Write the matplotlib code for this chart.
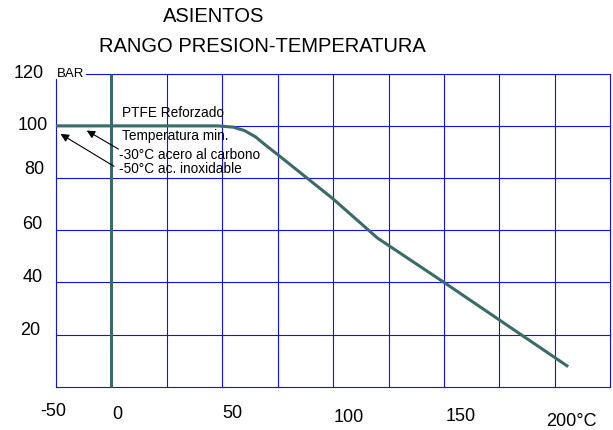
import matplotlib
matplotlib.use("Agg")
import matplotlib.pyplot as plt

plt.rcParams['font.family'] = ['Liberation Sans', 'DejaVu Sans']

# ---- data ----
temp_c = [-25, 48, 55, 60, 65, 70, 75, 100, 120, 150, 206]
pressure_bar = [100, 100, 99.5, 98.2, 95.8, 92.3, 89, 72, 57, 40, 7.7]

x_grid = [0, 25, 50, 75, 100, 125, 150, 175, 200]
y_grid = [20, 40, 60, 80, 100]

x_labels = ['-50', '0', '50', '100', '150', '200°C']
x_label_pos = [-26.3, 2.6, 54.4, 107.2, 157.7, 207.5]
x_label_y = [-9.6, -10.5, -10.1, -11.7, -11.3, -13.2]

y_labels = ['120', '100', '80', '60', '40', '20']
y_label_pos = [120.2, 100.3, 83.1, 62.0, 41.7, 21.7]
y_label_x = [-37.1, -35.3, -34.9, -35.8, -35.3, -36.7]

title_lines = ['ASIENTOS', 'RANGO PRESION-TEMPERATURA']
notes = ['PTFE Reforzado', 'Temperatura min.', '-30°C acero al carbono', '-50°C ac. inoxidable']

fig = plt.figure(figsize=(6.13, 4.30), dpi=100)
ax = fig.add_axes([0.0912, 0.1007, 0.9044, 0.7279])
ax.set_xlim(-25, 225)
ax.set_ylim(0, 120)
ax.axis('off')

grid_c = '#1010ff'
glw = 0.8
for xv in x_grid:
    ax.plot([xv, xv], [0, 120], color=grid_c, lw=glw, clip_on=False, zorder=1)
ax.plot([225, 225], [0, 120], color=grid_c, lw=glw, clip_on=False, zorder=1)
ax.plot([-25, -25], [0, 117.9], color=grid_c, lw=glw, clip_on=False, zorder=1)
for yv in y_grid:
    ax.plot([-25, 225], [yv, yv], color=grid_c, lw=glw, clip_on=False, zorder=1)
ax.plot([-25, 225], [0, 0], color=grid_c, lw=glw, clip_on=False, zorder=1)
ax.plot([-11.4, 225], [120, 120], color=grid_c, lw=glw, clip_on=False, zorder=1)

curve_c = '#3b6a67'
ax.plot([0, 0], [0, 120], color=curve_c, lw=2.2, clip_on=False, zorder=3,
        solid_capstyle='butt')
ax.plot(temp_c, pressure_bar, color=curve_c, lw=2.2, clip_on=False, zorder=3,
        solid_capstyle='butt', solid_joinstyle='round')

ax.text(-24.6, 120, 'BAR', fontsize=9.5, ha='left', va='center', zorder=4)

for lab, xp, yp in zip(x_labels, x_label_pos, x_label_y):
    ax.text(xp, yp, lab, fontsize=13, ha='center', va='center', clip_on=False)
for lab, yp, xp in zip(y_labels, y_label_pos, y_label_x):
    ax.text(xp, yp, lab, fontsize=13, ha='center', va='center', clip_on=False)

note_pos = [(5.0, 104.8), (5.0, 96.1), (3.5, 88.8), (3.5, 83.6)]
for t, (xp, yp) in zip(notes, note_pos):
    ax.text(xp, yp, t, fontsize=9.8, ha='left', va='center', zorder=4)

arrow_kw = dict(arrowstyle='-|>', lw=0.8, color='black', mutation_scale=12,
                shrinkA=0, shrinkB=0)
ax.annotate('', xy=(-11.1, 98.2), xytext=(3.2, 91.1), arrowprops=arrow_kw, zorder=4)
ax.annotate('', xy=(-22.9, 96.9), xytext=(1.2, 84.5), arrowprops=arrow_kw, zorder=4)

fig.text(213.7 / 613, 1 - 16.7 / 430, title_lines[0], fontsize=14.5, ha='center', va='center')
fig.text(262.5 / 613, 1 - 46 / 430, title_lines[1], fontsize=14.5, ha='center', va='center')

fig.savefig('out.png', dpi=100)
